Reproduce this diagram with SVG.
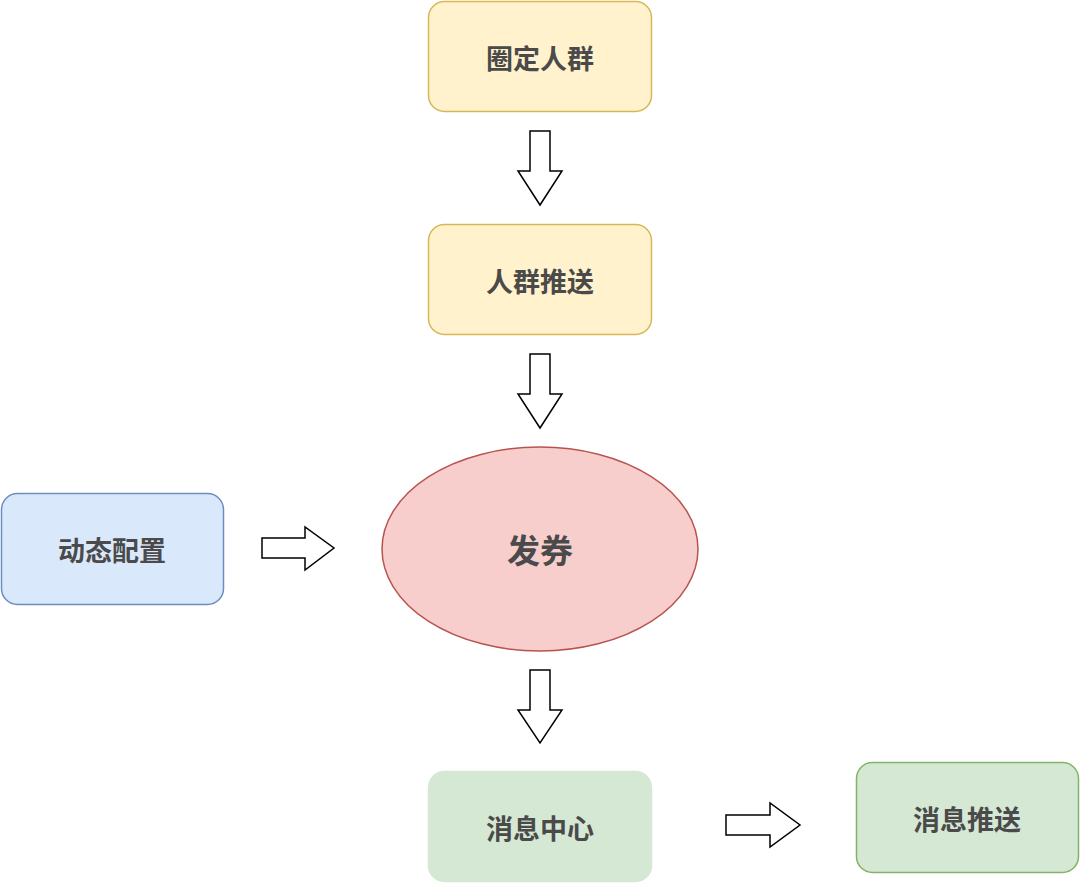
<svg xmlns="http://www.w3.org/2000/svg" width="1080" height="884" viewBox="0 0 1080 884">
<style>
.lbl{font-family:"Noto Sans CJK SC","Noto Sans",sans-serif;font-weight:bold;font-size:27px;fill:#4a4a4a;text-anchor:middle;dominant-baseline:central}
.y{fill:#fff2cc;stroke:#d6b656;stroke-width:1.5}
.b{fill:#dae8fc;stroke:#6c8ebf;stroke-width:1.5}
.g{fill:#d5e8d4;stroke:#82b366;stroke-width:1.5}
.arr{fill:#ffffff;stroke:#000000;stroke-width:1.5;stroke-linejoin:miter}
</style>
<rect width="1080" height="884" fill="#ffffff"/>
<g id="n1"><rect class="y" x="428.5" y="1.5" width="223" height="110" rx="16"/><text class="lbl" x="540" y="57">圈定人群</text></g>
<g id="n2"><rect class="y" x="428.5" y="224.5" width="223" height="110" rx="16"/><text class="lbl" x="540" y="280">人群推送</text></g>
<g id="n3"><ellipse cx="540" cy="549" rx="158" ry="102" fill="#f8cecc" stroke="#b85450" stroke-width="1.5"/><text class="lbl" x="540" y="549" style="font-size:33px">发券</text></g>
<g id="n4"><rect class="b" x="1.5" y="493.5" width="222" height="111" rx="16"/><text class="lbl" x="112" y="549">动态配置</text></g>
<g id="n5"><rect x="428.5" y="771.5" width="223" height="110" rx="16" fill="#d5e8d4" stroke="#d5e8d4" stroke-width="1.5"/><text class="lbl" x="540" y="827">消息中心</text></g>
<g id="n6"><rect class="g" x="856.5" y="762.5" width="222" height="110" rx="16"/><text class="lbl" x="967" y="818">消息推送</text></g>
<g id="connectors">
<path class="arr" d="M530,131 L550,131 L550,171 L562,171 L540,205 L518,171 L530,171 Z"/>
<path class="arr" d="M530,354 L550,354 L550,394 L562,394 L540,428 L518,394 L530,394 Z"/>
<path class="arr" d="M530,670 L550,670 L550,710 L562,710 L540,743 L518,710 L530,710 Z"/>
<path class="arr" d="M262,538 L305,538 L305,527 L334,548 L305,570 L305,558 L262,558 Z"/>
<path class="arr" d="M726,815 L770,815 L770,803 L800,825 L770,847 L770,835 L726,835 Z"/>
</g>
</svg>
